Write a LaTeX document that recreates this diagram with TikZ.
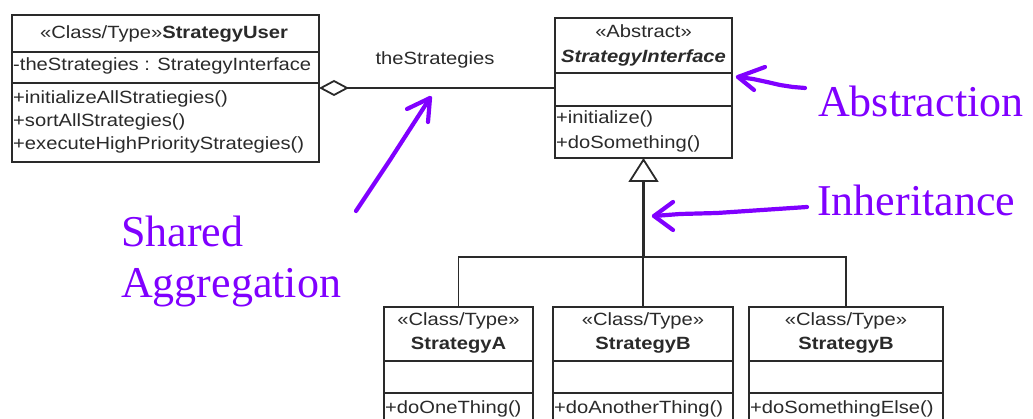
\documentclass[tikz,border=0pt]{standalone}
\usepackage{fontspec}
\usetikzlibrary{arrows.meta}
\newfontfamily\umlfont[FakeStretch=1.14]{Liberation Sans}
\newfontfamily\annfont{Liberation Serif}
\definecolor{inkgray}{HTML}{2A2A2A}
\definecolor{notepurple}{RGB}{128,0,255}
\tikzset{
  cls/.style={draw=inkgray, line width=1.8pt, anchor=north west, inner sep=0pt, outer sep=0pt},
  sep/.style={draw=inkgray, line width=1.8pt},
  umltxt/.style={font=\umlfont\fontsize{17.7}{21}\selectfont, text=inkgray, inner sep=0pt},
  link/.style={draw=inkgray, line width=1.8pt},
  trunk/.style={draw=inkgray, line width=2.6pt},
  note/.style={font=\annfont\fontsize{44}{51}\selectfont, text=notepurple, inner sep=0pt, anchor=base west},
  pen/.style={draw=notepurple, line width=4.2pt, line cap=round, line join=round},
}
\begin{document}
\begin{tikzpicture}[x=1pt, y=-1pt]
\useasboundingbox (0,0) rectangle (1033,419);
\fill[white] (0,0) rectangle (1033,419);
\clip (0,0) rectangle (1033,419);

% ---- StrategyUser class ----
\node[cls, minimum width=307pt, minimum height=147pt] (user) at (12,15) {};
\draw[sep] (12,52) -- (319,52);
\draw[sep] (12,83) -- (319,83);
\node[umltxt, anchor=base] (userhead) at (164,39) {«Class/Type»\textbf{StrategyUser}};
\node[umltxt, anchor=base west] (userattr) at (13,71) {-theStrategies : StrategyInterface};
\node[umltxt, anchor=base west] (userm1) at (13,104) {+initializeAllStratiegies()};
\node[umltxt, anchor=base west] (userm2) at (13,127) {+sortAllStrategies()};
\node[umltxt, anchor=base west] (userm3) at (13,150) {+executeHighPriorityStrategies()};

% ---- StrategyInterface (abstract) ----
\node[cls, minimum width=177pt, minimum height=140pt] (iface) at (555,18) {};
\draw[sep] (555,73) -- (732,73);
\draw[sep] (555,106) -- (732,106);
\node[umltxt, anchor=base] (ifacester) at (643.5,38) {«Abstract»};
\node[umltxt, anchor=base] (ifacename) at (643.5,63) {\textbf{\textit{StrategyInterface}}};
\node[umltxt, anchor=base west] (ifacem1) at (556,124) {+initialize()};
\node[umltxt, anchor=base west] (ifacem2) at (556,149) {+doSomething()};

% ---- concrete strategies ----
\node[cls, minimum width=149pt, minimum height=130pt] (sa) at (384,307) {};
\draw[sep] (384,361) -- (533,361);
\draw[sep] (384,393) -- (533,393);
\node[umltxt, anchor=base] (saster) at (458.5,326) {«Class/Type»};
\node[umltxt, anchor=base] (saname) at (458.5,350) {\textbf{StrategyA}};
\node[umltxt, anchor=base west] (sam1) at (385,413) {+doOneThing()};

\node[cls, minimum width=180pt, minimum height=130pt] (sb) at (553,307) {};
\draw[sep] (553,361) -- (733,361);
\draw[sep] (553,393) -- (733,393);
\node[umltxt, anchor=base] (sbster) at (643,326) {«Class/Type»};
\node[umltxt, anchor=base] (sbname) at (643,350) {\textbf{StrategyB}};
\node[umltxt, anchor=base west] (sbm1) at (554,413) {+doAnotherThing()};

\node[cls, minimum width=194pt, minimum height=130pt] (sc) at (749,307) {};
\draw[sep] (749,361) -- (943,361);
\draw[sep] (749,393) -- (943,393);
\node[umltxt, anchor=base] (scster) at (846,326) {«Class/Type»};
\node[umltxt, anchor=base] (scname) at (846,350) {\textbf{StrategyB}};
\node[umltxt, anchor=base west] (scm1) at (750,413) {+doSomethingElse()};

% ---- shared aggregation ----
\draw[link, -{Diamond[open, length=30pt, width=16pt]}] (iface.west) -- (iface.west -| user.east);
\node[umltxt, anchor=base] (rolename) at (435,65) {theStrategies};

% ---- generalisation tree ----
\coordinate (jn) at (643.5,257);
\draw[trunk, -{Triangle[open, length=24pt, width=30pt, line width=1.8pt]}] (jn) -- (iface.south);
\draw[link] (sa.north) |- (jn);
\draw[link] (sb.north) -- (sb.north |- jn);
\draw[link] (sc.north) |- (jn);

% ---- annotations ----
\node[note] (abstr) at (818,117) {Abstraction};
\node[note] (inher) at (817,216) {Inheritance};
\node[note] (shared) at (121,247) {Shared};
\node[note] (aggr) at (121,298) {Aggregation};

% Abstraction pointer
\coordinate (p1tip) at (738,77);
\draw[pen] (805,88) -- (793,87) -- (780,85) -- (767,82) -- (753,79) -- (p1tip);
\draw[pen] (765,67) -- (p1tip) -- (754,90);

% Inheritance pointer
\coordinate (p2tip) at (654,216);
\draw[pen] (807,207) -- (777,209) -- (747,211) -- (717,213) -- (680,214) -- (p2tip);
\draw[pen] (673,202) -- (p2tip) -- (673,230);

% Shared aggregation pointer
\coordinate (p3tip) at (430,98);
\draw[pen] (356,211) -- (390,160) -- (p3tip);
\draw[pen] (407,109) -- (p3tip) -- (428,122);
\end{tikzpicture}
\end{document}
